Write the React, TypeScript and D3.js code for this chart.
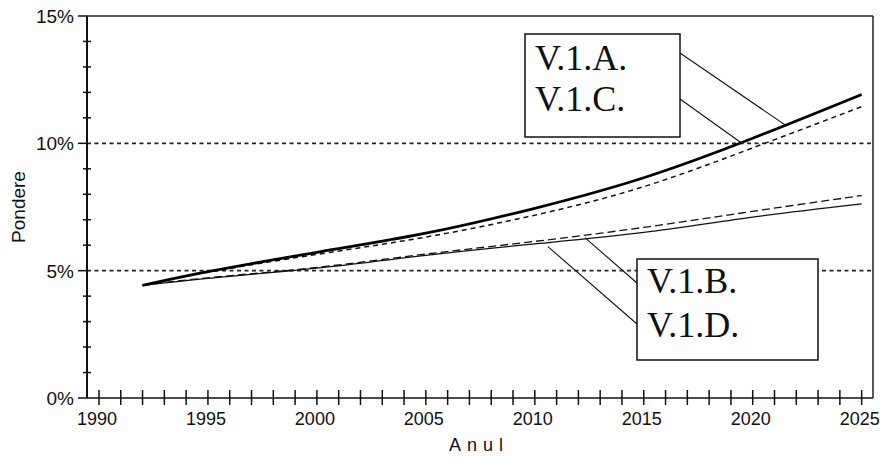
import React from "react";
import * as d3 from "d3";

const years = [1992, 1995, 2000, 2005, 2010, 2015, 2020, 2025];
const seriesA = [4.42, 4.96, 5.72, 6.47, 7.45, 8.65, 10.2, 11.92];
const seriesC = [4.42, 4.94, 5.64, 6.32, 7.18, 8.3, 9.82, 11.44];
const seriesB = [4.42, 4.7, 5.1, 5.6, 6.05, 6.5, 7.1, 7.62];
const seriesD = [4.42, 4.72, 5.13, 5.65, 6.15, 6.7, 7.33, 7.95];
const yTicks = [0, 5, 10, 15];
const xTickLabels = [1990, 1995, 2000, 2005, 2010, 2015, 2020, 2025];
const gridValues = [5, 10];

const W = 885;
const H = 457;
const left = 87;
const right = 873;
const top = 16;
const bottom = 398;

export default function App() {
  const x = d3.scaleLinear().domain([1989.45, 2025.52]).range([left, right]);
  const y = d3.scaleLinear().domain([0, 15]).range([bottom, top]);

  const mk = (vals: number[]) =>
    d3
      .line<number>()
      .x((_, i) => x(years[i]))
      .y((v) => y(v))
      .curve(d3.curveNatural)(vals) as string;

  const interp = (vals: number[], yr: number) => {
    const f = d3.scaleLinear().domain(years).range(vals);
    return f(yr);
  };

  const minorY = d3.range(0, 15.01, 1).filter((v) => v % 5 !== 0);
  const yearTicks = d3.range(1990, 2026, 1);

  const font = "'Liberation Sans', Arial, sans-serif";
  const serif = "'Liberation Serif', 'Times New Roman', serif";

  const leadA = { x: x(2021.5), y: y(interp(seriesA, 2021.5)) };
  const leadC = { x: x(2019.5), y: y(interp(seriesA, 2019.5)) + 1 };
  const leadB = { x: x(2012.3), y: y(interp(seriesB, 2012.3)) - 1 };
  const leadD = { x: x(2010.6), y: y(interp(seriesB, 2010.6)) + 4 };

  const box1 = { x: 525, y: 34, w: 155, h: 103 };
  const box2 = { x: 637, y: 259, w: 181, h: 101 };

  return (
    <svg
      width={W}
      height={H}
      style={{ position: "absolute", left: 0, top: 0, background: "#fff" }}
    >
      <rect x={0} y={0} width={W} height={H} fill="#fff" />
      {gridValues.map((g) => (
        <line
          key={g}
          x1={left}
          x2={right}
          y1={y(g)}
          y2={y(g)}
          stroke="#222"
          strokeWidth={1.6}
          strokeDasharray="4,3.5"
        />
      ))}
      <line x1={left} x2={right} y1={top} y2={top} stroke="#222" strokeWidth={1.5} />
      <line x1={right} x2={right} y1={top} y2={bottom} stroke="#222" strokeWidth={1.5} />
      <line x1={left} x2={right} y1={bottom} y2={bottom} stroke="#111" strokeWidth={1.6} />
      <line x1={left} x2={left} y1={top} y2={bottom} stroke="#111" strokeWidth={2} />

      {yTicks.map((t) => (
        <g key={t}>
          <line x1={78} x2={left} y1={y(t)} y2={y(t)} stroke="#111" strokeWidth={1.5} />
          <text
            x={74}
            y={y(t) + 7}
            textAnchor="end"
            fontFamily={font}
            fontSize={19}
            fill="#111"
          >
            {t}%
          </text>
        </g>
      ))}
      {minorY.map((t) => (
        <line key={t} x1={83} x2={91} y1={y(t)} y2={y(t)} stroke="#111" strokeWidth={1.5} />
      ))}

      {yearTicks.map((t) => (
        <line key={t} x1={x(t)} x2={x(t)} y1={390} y2={405} stroke="#111" strokeWidth={1.5} />
      ))}
      {xTickLabels.map((t) => (
        <text
          key={t}
          x={x(t) - 2}
          y={425}
          textAnchor="middle"
          fontFamily={font}
          fontSize={18}
          fill="#111"
        >
          {t}
        </text>
      ))}

      <text
        x={479}
        y={451}
        textAnchor="middle"
        fontFamily={font}
        fontSize={18}
        letterSpacing={6}
        fill="#111"
      >
        Anul
      </text>
      <text
        transform={`translate(25,207) rotate(-90)`}
        textAnchor="middle"
        fontFamily={font}
        fontSize={19}
        fill="#111"
      >
        Pondere
      </text>

      <path d={mk(seriesB)} fill="none" stroke="#111" strokeWidth={1.3} />
      <path
        d={mk(seriesD)}
        fill="none"
        stroke="#111"
        strokeWidth={1.3}
        strokeDasharray="8,4"
      />
      <path
        d={mk(seriesC)}
        fill="none"
        stroke="#111"
        strokeWidth={1.5}
        strokeDasharray="5,4"
      />
      <path d={mk(seriesA)} fill="none" stroke="#000" strokeWidth={2.8} />

      <line x1={box1.x + box1.w} y1={53} x2={leadA.x} y2={leadA.y} stroke="#111" strokeWidth={1.1} />
      <line x1={box1.x + box1.w} y1={99} x2={leadC.x} y2={leadC.y} stroke="#111" strokeWidth={1.1} />
      <rect
        x={box1.x}
        y={box1.y}
        width={box1.w}
        height={box1.h}
        fill="#fff"
        stroke="#111"
        strokeWidth={1.5}
      />
      <text x={535} y={70} fontFamily={serif} fontSize={36} fill="#111">
        V.1.A.
      </text>
      <text x={535} y={111} fontFamily={serif} fontSize={36} fill="#111">
        V.1.C.
      </text>

      <line x1={box2.x} y1={283} x2={leadB.x} y2={leadB.y} stroke="#111" strokeWidth={1.1} />
      <line x1={box2.x} y1={324} x2={leadD.x} y2={leadD.y} stroke="#111" strokeWidth={1.1} />
      <rect
        x={box2.x}
        y={box2.y}
        width={box2.w}
        height={box2.h}
        fill="#fff"
        stroke="#111"
        strokeWidth={1.5}
      />
      <text x={647} y={293} fontFamily={serif} fontSize={36} fill="#111">
        V.1.B.
      </text>
      <text x={647} y={337} fontFamily={serif} fontSize={36} fill="#111">
        V.1.D.
      </text>
    </svg>
  );
}
